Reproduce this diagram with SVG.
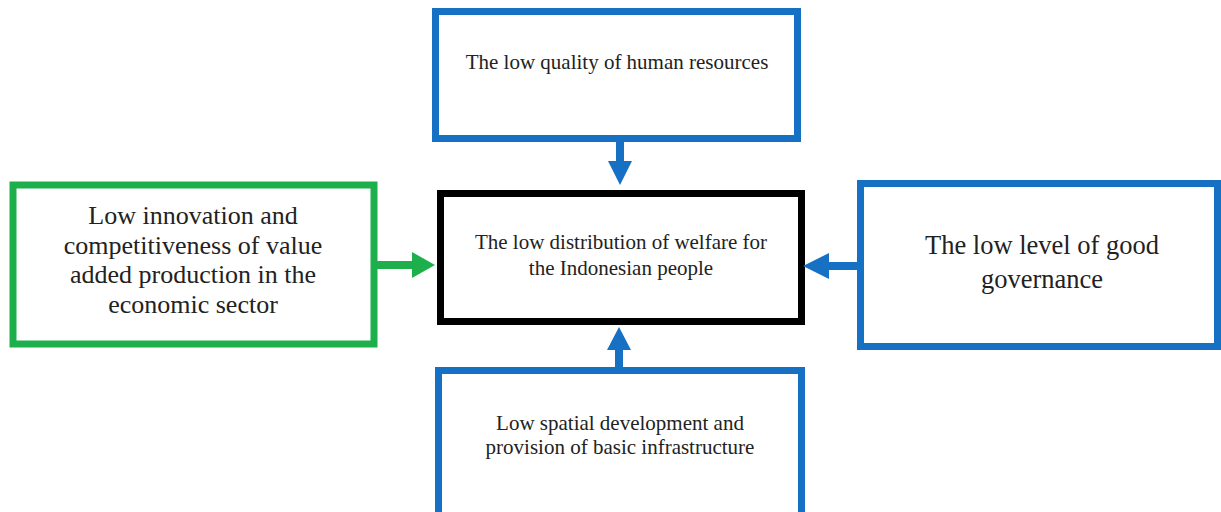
<svg xmlns="http://www.w3.org/2000/svg" width="1221" height="512" viewBox="0 0 1221 512">
<style>
.box{fill:#fff;stroke-width:7}
.blue{stroke:#1670C4}
.green{stroke:#1DAF4B}
.black{stroke:#000}
text{font-family:"Liberation Serif","Times New Roman",serif;fill:#222;text-anchor:middle}
.arr-b{fill:#1670C4}
.arr-g{fill:#1DAF4B}
</style>
<rect width="1221" height="512" fill="#fff"/>
<g id="top">
<rect class="box blue" x="435.5" y="11.5" width="362" height="127"/>
<text x="617" y="69" font-size="21">The low quality of human resources</text>
</g>
<g id="center">
<rect class="box black" x="440.5" y="193.5" width="361" height="128"/>
<text x="621" y="249" font-size="21">The low distribution of welfare for</text>
<text x="621" y="275" font-size="21">the Indonesian people</text>
</g>
<g id="left">
<rect class="box green" x="13" y="185" width="361" height="159"/>
<text x="193" y="224" font-size="26">Low innovation and</text>
<text x="193" y="254" font-size="26">competitiveness of value</text>
<text x="193" y="283" font-size="26">added production in the</text>
<text x="193" y="313" font-size="26">economic sector</text>
</g>
<g id="right">
<rect class="box blue" x="860.5" y="183.5" width="357" height="163"/>
<text x="1042" y="254" font-size="26.5">The low level of good</text>
<text x="1042" y="288" font-size="26.5">governance</text>
</g>
<g id="bottom">
<rect class="box blue" x="438.5" y="370.5" width="363" height="150"/>
<text x="620" y="430" font-size="21">Low spatial development and</text>
<text x="620" y="454" font-size="21">provision of basic infrastructure</text>
</g>
<g id="connectors">
<polygon class="arr-b" points="616,142 624,142 624,161 632,161 620,185 608,161 616,161"/>
<polygon class="arr-g" points="377,261 412,261 412,252 435,265 412,278 412,269 377,269"/>
<polygon class="arr-b" points="857,262 829,262 829,253 803,266 829,279 829,270 857,270"/>
<polygon class="arr-b" points="615,367 615,350 607,350 619,327 631,350 623,350 623,367"/>
</g>
</svg>
